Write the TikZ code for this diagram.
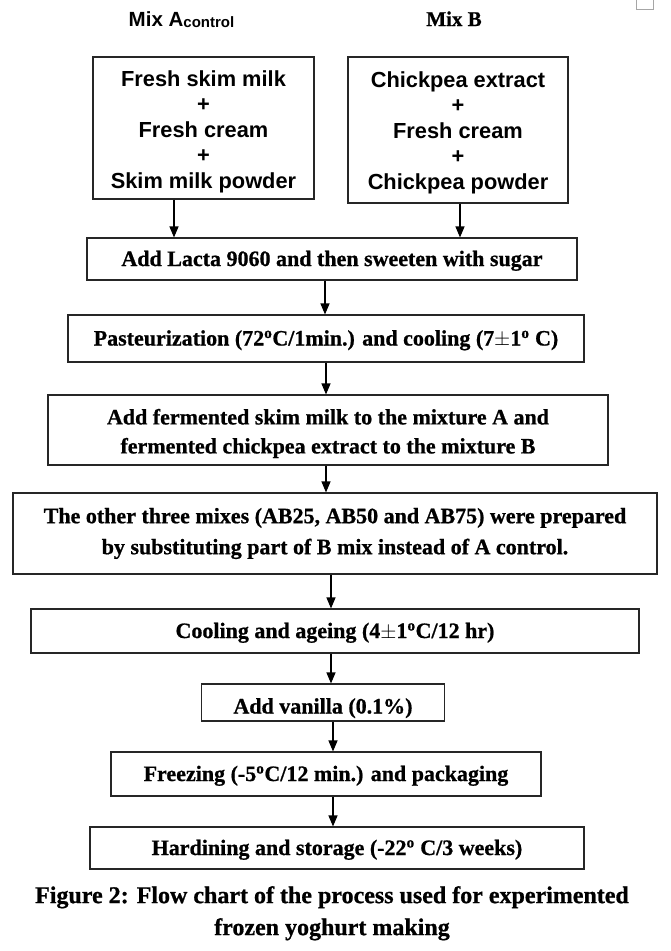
\documentclass[tikz,border=0pt]{standalone}
\usepackage{fontspec}
\setmainfont{Liberation Serif}[BoldFeatures={FakeBold=0.8}]
\newfontfamily\arialf{Liberation Sans}
\usetikzlibrary{arrows.meta}
\tikzset{
  box/.style={draw=black!85, line width=1.1pt, inner sep=0pt, align=center,
    font=\bfseries\fontsize{22}{26}\selectfont},
  sbox/.style={box, text height=16pt, text depth=2pt},
  frame/.style={draw=black!85, line width=1.1pt, inner sep=0pt},
  atext/.style={inner sep=0pt, align=center, font=\arialf\bfseries\fontsize{21.8}{25.5}\selectfont},
  arr/.style={line width=1.1pt, -{Triangle[width=9pt,length=11pt]}},
  ttl/.style={inner sep=0pt, anchor=base}
}
\newcommand{\dg}{\textsuperscript{o}}
\begin{document}
\begin{tikzpicture}[x=1pt,y=-1pt]
\useasboundingbox (0,0) rectangle (670,951);
\draw[gray!70, line width=0.8pt] (636,-1) rectangle (653,9);
% titles
\node[ttl, font=\arialf\bfseries\fontsize{20.5}{22}\selectfont] (ta) at (181.5,26) {Mix A\raisebox{-1pt}{\fontsize{15}{16}\selectfont control}};
\node[ttl, font=\bfseries\fontsize{21}{24}\selectfont] (tb) at (454,26) {Mix B};
% boxes
\node[frame, minimum width=221pt, minimum height=142pt] (ba) at (203.5,128) {};
\node[atext] (tta) at ([yshift=-3.5pt]ba.center) {Fresh skim milk\\+\\Fresh cream\\+\\Skim milk powder};
\node[frame, minimum width=220pt, minimum height=146pt] (bb) at (458,130) {};
\node[atext] (ttb) at ([yshift=-2.5pt]bb.center) {Chickpea extract\\+\\Fresh cream\\+\\Chickpea powder};
\node[sbox, minimum width=490pt, minimum height=42pt] (lacta) at (332,259) {Add Lacta 9060 and then sweeten with sugar};
\node[sbox, minimum width=516pt, minimum height=47pt] (past) at (326,338.5) {Pasteurization (72\dg C/1min.) and cooling (7$\pm$1\dg\ C)};
\node[frame, minimum width=560pt, minimum height=70pt] (ferm) at (328,430) {};
\node[box, inner sep=0pt, font=\bfseries\fontsize{22}{29}\selectfont] (tferm) at ([yshift=-3.5pt]ferm.center) [draw=none] {Add fermented skim milk to the mixture A and\\fermented chickpea extract to the mixture B};
\node[box, minimum width=644pt, minimum height=81pt, font=\bfseries\fontsize{22}{31}\selectfont] (other) at (335,533.5) {The other three mixes (AB25, AB50 and AB75) were prepared\\by substituting part of B mix instead of A control.};
\node[sbox, minimum width=608pt, minimum height=44pt] (cool) at (335,631) {Cooling and ageing (4$\pm$1\dg C/12 hr)};
\node[box, text height=24pt, text depth=2pt, minimum width=243pt, minimum height=37pt] (van) at (323,702.5) {Add vanilla (0.1\%)};
\node[sbox, minimum width=430pt, minimum height=44pt] (frz) at (326,774) {Freezing (-5\dg C/12 min.) and packaging};
\node[sbox, minimum width=494pt, minimum height=42pt] (hard) at (337,848) {Hardining and storage (-22\dg\ C/3 weeks)};
% caption
\node[inner sep=0pt, align=center, font=\bfseries\fontsize{24}{32}\selectfont, anchor=north] (cap) at (332,886) {Figure 2: Flow chart of the process used for experimented\\frozen yoghurt making};
% arrows
\coordinate (xa) at (174,0);
\coordinate (xb) at (460,0);
\coordinate (x1) at (325,0);
\coordinate (x2) at (326,0);
\coordinate (x3) at (331,0);
\coordinate (x4) at (333,0);
\draw[arr] (ba.south -| xa) -- (lacta.north -| xa);
\draw[arr] (bb.south -| xb) -- (lacta.north -| xb);
\draw[arr] (lacta.south -| x1) -- (past.north -| x1);
\draw[arr] (past.south -| x2) -- (ferm.north -| x2);
\draw[arr] (ferm.south -| x2) -- (other.north -| x2);
\draw[arr] (other.south -| x3) -- (cool.north -| x3);
\draw[arr] (cool.south -| x3) -- (van.north -| x3);
\draw[arr] (van.south -| x4) -- (frz.north -| x4);
\draw[arr] (frz.south -| x4) -- (hard.north -| x4);
\end{tikzpicture}
\end{document}
